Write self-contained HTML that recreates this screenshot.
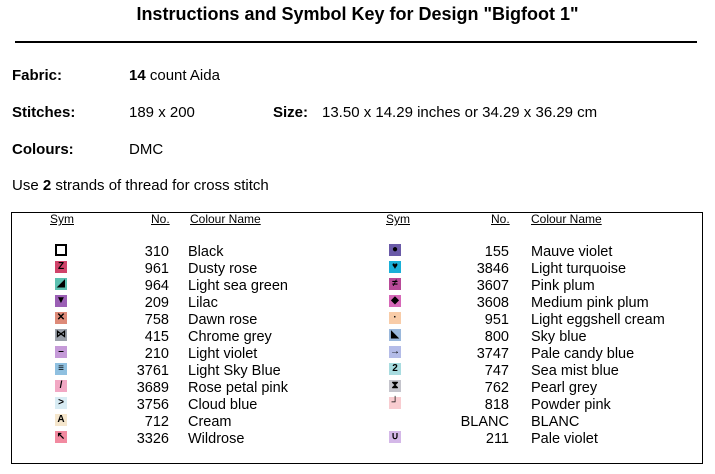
<!DOCTYPE html>
<html><head><meta charset="utf-8"><style>
body{margin:0;width:715px;height:474px;background:#fff;font-family:"Liberation Sans",Arial,sans-serif;color:#000;position:relative;overflow:hidden}
.a{position:absolute;white-space:nowrap;font-size:15px;line-height:16px}
.b{font-weight:bold}
.t{position:absolute;left:0;width:715px;text-align:center;top:4px;font-size:18px;font-weight:bold}
.hr{position:absolute;left:15px;width:682px;top:41px;height:2px;background:#000}
.box{position:absolute;left:11px;top:212px;width:692px;height:252px;border:1px solid #000;box-sizing:border-box}
.h{position:absolute;font-size:12px;text-decoration:underline;line-height:14px;top:212px}
.s{position:absolute;width:12px;height:12px;font-size:10px;line-height:12px;text-align:center;font-weight:bold}
.n{position:absolute;text-align:right;width:60px;font-size:14.5px;line-height:16px}
.c{position:absolute;font-size:14.5px;line-height:16px;white-space:nowrap}
</style></head><body>
<div class="t">Instructions and Symbol Key for Design "Bigfoot 1"</div>
<div class="hr"></div>
<div class="a b" style="left:12px;top:68px">Fabric:</div>
<div class="a" style="left:129px;top:68px"><b>14</b> count Aida</div>
<div class="a b" style="left:12px;top:105px">Stitches:</div>
<div class="a" style="left:129px;top:105px">189 x 200</div>
<div class="a b" style="left:273px;top:105px">Size:</div>
<div class="a" style="left:322px;top:105px">13.50 x 14.29 inches or 34.29 x 36.29 cm</div>
<div class="a b" style="left:12px;top:142px">Colours:</div>
<div class="a" style="left:129px;top:142px">DMC</div>
<div class="a" style="left:12px;top:178px">Use <b>2</b> strands of thread for cross stitch</div>
<div class="box"></div>
<div class="h" style="left:50px">Sym</div>
<div class="h" style="left:151px">No.</div>
<div class="h" style="left:190px">Colour Name</div>
<div class="h" style="left:386px">Sym</div>
<div class="h" style="left:491px">No.</div>
<div class="h" style="left:531px">Colour Name</div>
<div id="rows"></div>
<script>
var L=[["#fff","","310","Black",1],["#d0436a","Z","961","Dusty rose"],["#5bc0b0","◢","964","Light sea green"],["#9b5fb5","▼","209","Lilac"],["#dd8a78","✕","758","Dawn rose"],["#9aa0aa","⋈","415","Chrome grey"],["#c59ad8","–","210","Light violet"],["#8fc0e0","≡","3761","Light Sky Blue"],["#f2a8c4","/","3689","Rose petal pink"],["#d8ecf4","&gt;","3756","Cloud blue"],["#f5e6cc","A","712","Cream"],["#f28aa0","↖","3326","Wildrose"]];
var R=[["#6a5aa8","●","155","Mauve violet"],["#1ab0d8","♥","3846","Light turquoise"],["#b84a98","≠","3607","Pink plum"],["#d668b8","◆","3608","Medium pink plum"],["#f8cca8","·","951","Light eggshell cream"],["#9ab8dc","◣","800","Sky blue"],["#b4bce8","→","3747","Pale candy blue"],["#a8dce0","2","747","Sea mist blue"],["#c4c4cc","⧗","762","Pearl grey"],["#f8ccd0","┘","818","Powder pink"],["#fff","","BLANC","BLANC"],["#d4b8e8","∪","211","Pale violet"]];
var h="";
function row(d,i,sx,nx,cx){var y=244+i*17;
h+='<div class="s" style="left:'+sx+'px;top:'+y+'px;background:'+d[0]+(d[4]?';border:2px solid #000;box-sizing:border-box':'')+'">'+d[1]+'</div>';
h+='<div class="n" style="left:'+(nx-60)+'px;top:'+y+'px">'+d[2]+'</div>';
h+='<div class="c" style="left:'+cx+'px;top:'+y+'px">'+d[3]+'</div>';}
L.forEach(function(d,i){row(d,i,55,169,188)});
R.forEach(function(d,i){row(d,i,389,509,531)});
document.getElementById("rows").innerHTML=h;
</script>
</body></html>
